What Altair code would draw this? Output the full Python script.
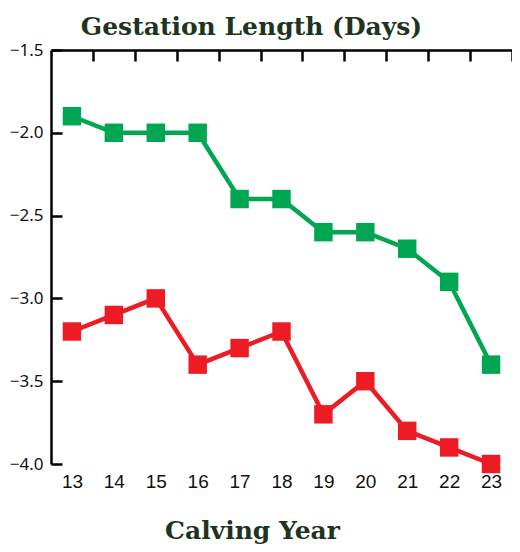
import altair as alt
import pandas as pd

years = [13, 14, 15, 16, 17, 18, 19, 20, 21, 22, 23]
green_vals = [-1.9, -2.0, -2.0, -2.0, -2.4, -2.4, -2.6, -2.6, -2.7, -2.9, -3.4]
red_vals = [-3.2, -3.1, -3.0, -3.4, -3.3, -3.2, -3.7, -3.5, -3.8, -3.9, -4.0]
top_ticks = [13.5, 14.5, 15.5, 16.5, 17.5, 18.5, 19.5, 20.5, 21.5, 22.5, 23.5]
y_ticks = [-1.5, -2.0, -2.5, -3.0, -3.5, -4.0]

df = pd.DataFrame({
    "year": years * 2,
    "value": green_vals + red_vals,
    "series": ["green"] * len(years) + ["red"] * len(years),
})

W, H = 461, 414
xscale = alt.Scale(domain=[12.5, 23.5], nice=False, zero=False)
yscale = alt.Scale(domain=[-4.0, -1.5], nice=False, zero=False)
color = alt.Color("series:N", scale=alt.Scale(domain=["green", "red"], range=["#00A651", "#ED1C24"]), legend=None)

lines = alt.Chart(df).mark_line(strokeWidth=4.5).encode(
    x=alt.X("year:Q", scale=xscale, axis=alt.Axis(
        orient="bottom", values=years, format="d", domain=False, ticks=False,
        labelFont="Liberation Sans", labelFontSize=19, labelColor="#111111",
        labelPadding=8, grid=False,
        title="Calving Year", titleFont="DejaVu Serif", titleFontSize=25,
        titleFontWeight="bold", titleColor="#1E3320", titlePadding=27,
        titleX=201, titleAlign="center", titleAnchor="start",
    )),
    y=alt.Y("value:Q", scale=yscale, axis=alt.Axis(
        orient="right", offset=-W, values=y_ticks, format=".1f",
        domain=True, domainColor="#000000", domainWidth=2.5,
        ticks=True, tickSize=11, tickColor="#000000", tickWidth=2.5,
        labelAlign="right", labelPadding=-19, labelFont="Noto Sans",
        labelFontSize=17, labelColor="#111111", grid=False, title=None,
    )),
    color=color,
    detail="series:N",
)

points = alt.Chart(df).mark_square(size=340, opacity=1).encode(
    x=alt.X("year:Q", scale=xscale, axis=alt.Axis(
        orient="bottom", offset=-H, values=top_ticks, labels=False,
        domain=True, domainColor="#000000", domainWidth=2.5,
        ticks=True, tickSize=11, tickColor="#000000", tickWidth=2.5,
        grid=False, title=None,
    )),
    y=alt.Y("value:Q", scale=yscale),
    color=color,
)

chart = alt.layer(lines, points).resolve_axis(x="independent").properties(
    width=W, height=H,
    title=alt.TitleParams("Gestation Length (Days)", font="DejaVu Serif", fontSize=25,
                          fontWeight="bold", color="#1E3320", anchor="middle",
                          offset=1, dx=-30),
    autosize=alt.AutoSizeParams(type="none"),
    padding={"left": 43, "top": 42, "right": 0, "bottom": 80},
    background="#FFFFFF",
).configure_view(stroke=None)

chart.save("out.html", embed_options={"renderer": "svg", "actions": False})
